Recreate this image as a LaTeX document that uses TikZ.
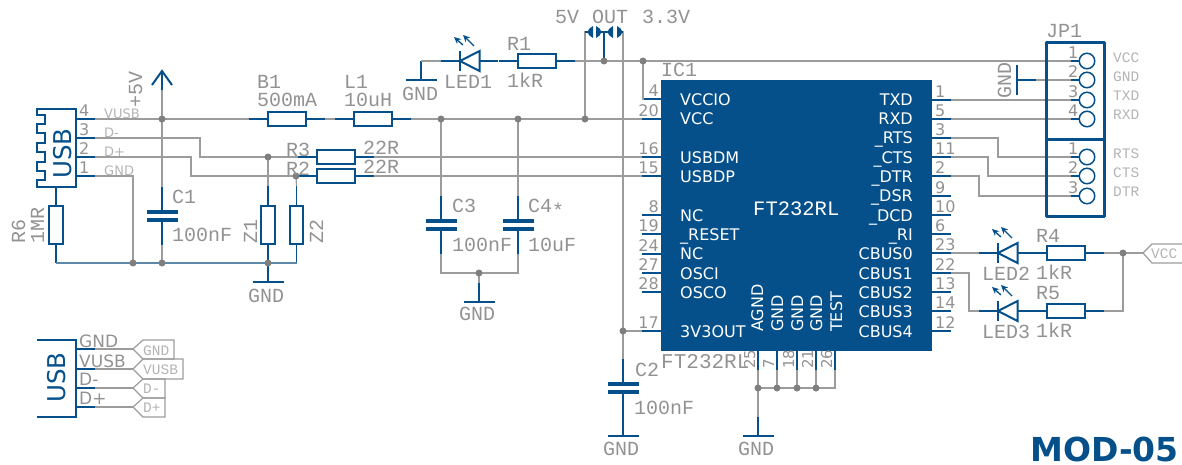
\documentclass[tikz,border=0pt]{standalone}
\usepackage{fontspec}
\setmainfont{DejaVu Sans}
\newfontfamily\lmono{Liberation Mono}
\usetikzlibrary{arrows.meta}
\definecolor{bl}{HTML}{05508A}
\definecolor{wg}{HTML}{9C9C9C}
\definecolor{tg}{HTML}{929292}
\definecolor{lg}{HTML}{B4B4B4}
\definecolor{jc}{HTML}{7F7F7F}
\definecolor{gw}{HTML}{5E88A8}
\tikzset{
  wire/.style={draw=wg,line width=1.2pt,line join=miter},
  gwire/.style={draw=gw,line width=1.3pt},
  lead/.style={draw=bl,line width=1.3pt},
  sym/.style={draw=bl,line width=2pt},
  resh/.style={draw=bl,line width=2pt,fill=white,rectangle,inner sep=0,minimum width=38pt,minimum height=13.5pt},
  resv/.style={draw=bl,line width=2pt,fill=white,rectangle,inner sep=0,minimum width=13.5pt,minimum height=38pt},
  junc/.style={circle,fill=jc,draw=none,inner sep=0,minimum size=7pt},
  lab/.style={anchor=base west,inner sep=0,text=tg,font=\lmono\fontsize{20}{20}\selectfont},
  labr/.style={lab,rotate=90},
  pinl/.style={anchor=base east,inner sep=0,text=tg,font=\fontsize{16}{16}\selectfont},
  pinr/.style={anchor=base west,inner sep=0,text=tg,font=\fontsize{16}{16}\selectfont},
  pinv/.style={anchor=base west,inner sep=0,rotate=90,text=tg,font=\fontsize{15}{15}\selectfont},
  net/.style={anchor=base west,inner sep=0,text=lg,font=\fontsize{13}{13}\selectfont},
  mnet/.style={anchor=base west,inner sep=0,text=lg,font=\lmono\fontsize{14.5}{14.5}\selectfont},
  usbl/.style={anchor=base west,inner sep=0,text=tg,font=\fontsize{17}{17}\selectfont},
  icl/.style={anchor=base west,inner sep=0,text=white,font=\fontsize{16}{16}\selectfont},
  icr/.style={anchor=base east,inner sep=0,text=white,font=\fontsize{16}{16}\selectfont},
  icv/.style={icl,rotate=90},
  usbt/.style={anchor=base west,inner sep=0,rotate=90,text=bl,font=\fontsize{24.5}{24.5}\selectfont},
  chip/.style={rectangle,fill=bl,inner sep=0,minimum width=271pt,minimum height=271pt},
  hole/.style={circle,draw=bl,line width=1.5pt,fill=white,inner sep=0,minimum size=15.5pt},
  tagl/.style={draw=wg,line width=1.2pt},
  lite/.style={-{Stealth[length=7pt,width=6.5pt]},draw=bl,line width=1.3pt}
}
\newcounter{tn}
\newcommand{\Tx}[4]{\stepcounter{tn}\node[#3] (t\arabic{tn}) at (#1,#2) {#4};}
\newcommand{\Rh}[3]{%
  \coordinate (#1a) at ({#2-38},#3); \coordinate (#1b) at ({#2+38},#3);
  \draw[lead] (#1a) -- (#1b);
  \node[resh] (#1) at (#2,#3) {};}
\newcommand{\Rv}[3]{%
  \coordinate (#1a) at (#2,{#3-38.5}); \coordinate (#1b) at (#2,{#3+38.5});
  \draw[lead] (#1a) -- (#1b);
  \node[resv] (#1) at (#2,#3) {};}
\newcommand{\Cp}[3]{%
  \coordinate (#1a) at (#2,{#3-29}); \coordinate (#1b) at (#2,{#3+29});
  \draw[lead] (#1a) -- ({#2},{#3-4}); \draw[lead] ({#2},{#3+4}) -- (#1b);
  \fill[bl] ({#2-15.5},{#3-6}) rectangle ({#2+15.5},{#3-2});
  \fill[bl] ({#2-15.5},{#3+2}) rectangle ({#2+15.5},{#3+6});}
\newcommand{\Gnd}[3]{% name, x, bar y
  \coordinate (#1) at (#2,{#3-19});
  \draw[lead] (#1) -- (#2,#3);
  \draw[bl,line width=1.6pt] ({#2-15.5},#3) -- ({#2+15.5},#3);}
\newcommand{\Led}[3]{% name, bar x, y
  \coordinate (#1a) at ({#2-19},#3); \coordinate (#1b) at ({#2+38},#3);
  \draw[lead] (#1a) -- (#1b);
  \draw[sym,line join=miter,fill=white] ({#2+19.5},{#3-10}) -- (#2,#3) -- ({#2+19.5},{#3+10}) -- cycle;
  \draw[sym] (#2,{#3-10}) -- (#2,{#3+10});
  \draw[lite] ({#2+3},{#3-16}) -- ({#2-6},{#3-24});
  \draw[lite] ({#2+14},{#3-15}) -- ({#2+3},{#3-26});}
\newcommand{\Lp}[3]{% num,y,name
  \coordinate (#3) at (642,#2);
  \draw[lead] (#3) -- (661,#2);
  \Tx{659}{#2-3}{pinl}{#1}}
\newcommand{\Rp}[3]{%
  \coordinate (#3) at (951,#2);
  \draw[lead] (932,#2) -- (#3);
  \Tx{935}{#2-3}{pinr}{#1}}
\newcommand{\Bp}[3]{% num,x,name
  \coordinate (#3) at (#2,370);
  \draw[lead] (#2,351) -- (#3);
  \Tx{#2-3}{369}{pinv}{#1}}
\newcommand{\Jh}[3]{% name,y,num
  \node[hole] (#1) at (1087,#2) {};
  \draw[lead] (1071,#2) -- (#1.west);
  \Tx{1068}{#2-3}{pinr}{#3}}
\begin{document}
\begin{tikzpicture}[x=1pt,y=-1pt]
\useasboundingbox (0,0) rectangle (1182,464);
% ---- junctions
\foreach \n/\x/\y in {j5/162/119,ja/441/119,jb/518/119,jc/585/119,jm/268/157,jp/296/176,
  jg1/133/263,jg2/162/263,jg3/268/263,jc3/479/273,jt/604/61,ju/643/61,jv/623/331,
  jk1/758/388,jk2/777/388,jk3/797/388,jk4/816/388,jl/1123/253}
  {\coordinate (\n) at (\x,\y);}
% ---- USB connector pins
\foreach \n/\y in {u4/119,u3/138,u2/157,u1/176}{\coordinate (\n) at (95,\y); \draw[lead] (76,\y) -- (\n);}
\Rh{B1}{287}{119}
\Rh{L1}{373}{119}
\Rh{R3}{335.5}{157}
\Rh{R2}{335.5}{176}
\Rv{R6}{56}{224.5}
\Rv{Z1}{268}{224.5}
\Rv{Z2}{296.5}{224.5}
\Cp{C1}{162}{215.5}
\Cp{C3}{441}{225}
\Cp{C4}{518}{225}
\Cp{C2}{623}{388}
\Gnd{g1}{268}{282}
\Gnd{g2}{479}{302}
\Gnd{g3}{623}{436}
\Gnd{g4}{758}{436}
\Gnd{g5}{421}{80}
\Led{D1}{460}{61}
\Rh{R1}{536.5}{61}
\Led{D2}{998}{253}
\Rh{R4}{1065.5}{253}
\Led{D3}{998}{311}
\Rh{R5}{1065.5}{311}
% ---- IC
\node[chip] (IC) at (796.5,215.5) {};
\Lp{4}{99}{p4}\Lp{20}{119}{p20}\Lp{16}{157}{p16}\Lp{15}{176}{p15}\Lp{8}{215}{p8}
\Lp{19}{234}{p19}\Lp{24}{254}{p24}\Lp{27}{273}{p27}\Lp{28}{292}{p28}\Lp{17}{331}{p17}
\Rp{1}{100}{q1}\Rp{5}{119}{q5}\Rp{3}{138}{q3}\Rp{11}{157}{q11}\Rp{2}{176}{q2}\Rp{9}{196}{q9}
\Rp{10}{215}{q10}\Rp{6}{234}{q6}\Rp{23}{253}{q23}\Rp{22}{273}{q22}\Rp{13}{292}{q13}\Rp{14}{311}{q14}\Rp{12}{331}{q12}
\Bp{25}{758}{b25}\Bp{7}{777}{b7}\Bp{18}{797}{b18}\Bp{21}{816}{b21}\Bp{26}{835}{b26}
% ---- wires
\draw[wire] (u4) -- (j5) -- (B1a);
\draw[wire] (B1b) -- (L1a);
\draw[wire] (L1b) -- (ja) -- (jb) -- (jc) -- (p20);
\draw[wire] (u3) -- (200,138) -- (200,157) -- (jm) -- (R3a);
\draw[wire] (u2) -- (191,157) -- (191,176) -- (jp) -- (R2a);
\draw[wire] (R3b) -- (p16);
\draw[wire] (R2b) -- (p15);
\draw[wire] (u1) -- (133,176) -- (jg1);
\draw[wire] (j5) -- (C1a);
\draw[wire] (C1b) -- (jg2);
\draw[wire] (jm) -- (Z1a);
\draw[wire] (jp) -- (Z2a);
\draw[gwire] (R6b) -- (jg1) -- (jg2) -- (jg3) -- (296.5,263) -- (Z2b);
\draw[wire] (ja) -- (C3a);
\draw[wire] (jb) -- (C4a);
\draw[wire] (C3b) -- (441,273) -- (jc3) -- (518,273) -- (C4b);
\draw[wire] (jc3) -- (g2);
\draw[wire] (g5) -- (D1a);
\draw[wire] (R1b) -- (jt) -- (ju) -- (1071,61);
\draw[wire] (ju) -- (643,99) -- (p4);
\draw[wire] (jc) -- (585,32) -- (589,32);
\draw[wire] (620,32) -- (623,32) -- (jv) -- (C2a);
\draw[wire] (p17) -- (jv);
\draw[lead] (jt) -- (604,32);
\draw[wire] (jk1) -- (g4);
\draw[wire] (b25) -- (jk1);
\draw[wire] (b7) -- (jk2);
\draw[wire] (b18) -- (jk3);
\draw[wire] (b21) -- (jk4);
\draw[wire] (jk1) -- (jk2) -- (jk3) -- (jk4) -- (835,388) -- (b26);
\draw[wire] (q23) -- (D2a);
\draw[wire] (q22) -- (969,273) -- (969,311) -- (D3a);
\draw[wire] (R4b) -- (jl) -- (1143,253);
\draw[wire] (R5b) -- (1123,311) -- (jl);
% +5V supply
\draw[wire] (j5) -- (162,90);
\draw[lead] (162,90) -- (162,71);
\draw[sym,line join=miter] (152,85) -- (162,71) -- (172,85);
% solder jumper
\foreach \x/\s in {593/1,596/-1,613/1,617/-1}{
  \fill[bl,shift={(\x,32)},xscale=\s] (0,-6) -- (0,6) .. controls (-3,5) and (-5,2) .. (-5.5,0) .. controls (-5,-2) and (-3,-5) .. (0,-6) -- cycle;}
\draw[lead] (601,32) -- (608,32);
\draw[lead] (585,32) -- (589,32);
\draw[lead] (620,32) -- (623,32);
% junction dots
\foreach \n in {j5,ja,jb,jc,jm,jp,jg1,jg2,jg3,jc3,jt,ju,jv,jk1,jk2,jk3,jk4,jl}
  {\node[junc] (d\n) at (\n) {};}
% ---- USB shell
\draw[sym,line join=miter] (76,109) -- (37,109) -- (37,115) -- (45,115) -- (45,124) -- (37,124) -- (37,133) -- (45,133) -- (45,143) -- (37,143) -- (37,152) -- (45,152) -- (45,162) -- (37,162) -- (37,171) -- (45,171) -- (45,180) -- (37,180) -- (37,187) -- (76,187) -- cycle;
\Tx{71}{179}{usbt}{USB}
\Tx{79}{116}{pinr}{4}\Tx{79}{135}{pinr}{3}\Tx{79}{154}{pinr}{2}\Tx{79}{173}{pinr}{1}
\Tx{104}{118}{net}{VUSB}\Tx{104}{137}{net}{D-}\Tx{104}{156}{net}{D+}\Tx{104}{175}{net}{GND}
% ---- JP1
\draw[wire] (q1) -- (1071,100);
\draw[wire] (q5) -- (1071,119);
\draw[wire] (q3) -- (998,138) -- (998,157) -- (1071,157);
\draw[wire] (q11) -- (988,157) -- (988,176) -- (1071,176);
\draw[wire] (q2) -- (979,176) -- (979,196) -- (1071,196);
\draw[lead] (1017,80) -- (1036,80);
\draw[wire] (1036,80) -- (1071,80);
\draw[bl,line width=1.6pt] (1017,65) -- (1017,95);
\draw[bl,line width=3pt,line join=round] (1046,42) rectangle (1104,139);
\draw[bl,line width=3pt,line join=round] (1046,139) rectangle (1104,216);
\Jh{h1}{61}{1}\Jh{h2}{80}{2}\Jh{h3}{100}{3}\Jh{h4}{119}{4}
\Jh{h5}{157}{1}\Jh{h6}{176}{2}\Jh{h7}{196}{3}
\Tx{1046}{37}{lab}{JP1}
\Tx{1113}{62}{mnet}{VCC}\Tx{1113}{81}{mnet}{GND}\Tx{1113}{100}{mnet}{TXD}\Tx{1113}{119}{mnet}{RXD}
\Tx{1113}{158}{mnet}{RTS}\Tx{1113}{177}{mnet}{CTS}\Tx{1113}{196}{mnet}{DTR}
\Tx{1011}{99}{labr}{GND}
% ---- VCC tag
\draw[tagl,line join=miter] (1182,244) -- (1152,244) -- (1143,253) -- (1152,263) -- (1182,263);
\Tx{1151}{258}{mnet}{VCC}
% ---- lower-left USB symbol
\draw[sym,line width=1.6pt,line join=miter] (37,340) -- (76,340) -- (76,417) -- (37,417);
\Tx{65}{403}{usbt}{USB}
\foreach \n/\y in {a1/349,a2/369,a3/388,a4/407}{\coordinate (\n) at (95,\y); \draw[lead] (76,\y) -- (\n);}
\draw[wire] (a1) -- (133,349);\draw[wire] (a2) -- (133,369);\draw[wire] (a3) -- (133,388);\draw[wire] (a4) -- (133,407);
\draw[tagl,line join=miter] (133,349) -- (143,340) -- (174,340) -- (174,359) -- (143,359) -- cycle;
\draw[tagl,line join=miter] (133,369) -- (143,359) -- (183,359) -- (183,379) -- (143,379) -- cycle;
\draw[tagl,line join=miter] (133,388) -- (143,379) -- (165,379) -- (165,398) -- (143,398) -- cycle;
\draw[tagl,line join=miter] (133,407) -- (143,398) -- (165,398) -- (165,417) -- (143,417) -- cycle;
\Tx{143}{355}{mnet}{GND}\Tx{143}{374}{mnet}{VUSB}\Tx{143}{393}{mnet}{D-}\Tx{143}{412}{mnet}{D+}
\Tx{79}{347}{usbl}{GND}\Tx{79}{367}{usbl}{VUSB}\Tx{79}{385}{usbl}{D-}\Tx{79}{404}{usbl}{D+}
% ---- value labels
\Tx{257}{88}{lab}{B1}\Tx{257}{106}{lab}{500mA}\Tx{344}{88}{lab}{L1}\Tx{344}{106}{lab}{10uH}
\Tx{286}{156}{lab}{R3}\Tx{286}{175}{lab}{R2}\Tx{363}{154}{lab}{22R}\Tx{363}{173}{lab}{22R}
\Tx{172}{203}{lab}{C1}\Tx{172}{241}{lab}{100nF}
\Tx{25}{244}{labr}{R6}\Tx{44}{244}{labr}{1MR}\Tx{142}{108}{labr}{+5V}
\Tx{257}{244}{labr}{Z1}\Tx{323}{244}{labr}{Z2}
\Tx{248}{302}{lab}{GND}\Tx{459}{320}{lab}{GND}\Tx{402}{100}{lab}{GND}
\Tx{603}{455}{lab}{GND}\Tx{738}{455}{lab}{GND}
\Tx{444}{88}{lab}{LED1}\Tx{507}{50}{lab}{R1}\Tx{507}{87}{lab}{1kR}
\Tx{452}{212}{lab}{C3}\Tx{452}{251}{lab}{100nF}\Tx{528}{212}{lab}{C4\raisebox{-5pt}{*}}\Tx{528}{251}{lab}{10uF}
\Tx{555}{23}{lab}{5V}\Tx{592}{23}{lab}{OUT}\Tx{642}{23}{lab}{3.3V}
\Tx{661}{76}{lab}{IC1}
\Tx{635}{376}{lab}{C2}\Tx{634}{414}{lab}{100nF}
\Tx{982}{280}{lab}{LED2}\Tx{1036}{279}{lab}{1kR}\Tx{1036}{242}{lab}{R4}
\Tx{982}{338}{lab}{LED3}\Tx{1036}{337}{lab}{1kR}\Tx{1036}{299}{lab}{R5}
\node[lab,font=\lmono\fontsize{21}{21}\selectfont] (gname) at (661,368) {FT232RL};
\node[lab,text=white,font=\lmono\fontsize{20.5}{20.5}\selectfont] (wname) at (753,215) {FT232RL};
% ---- IC text
\Tx{680}{105}{icl}{VCCIO}\Tx{680}{124}{icl}{VCC}\Tx{680}{163}{icl}{USBDM}\Tx{680}{182}{icl}{USBDP}
\Tx{680}{221}{icl}{NC}\Tx{680}{240}{icl}{\_RESET}\Tx{680}{259}{icl}{NC}\Tx{680}{279}{icl}{OSCI}
\Tx{680}{298}{icl}{OSCO}\Tx{680}{337}{icl}{3V3OUT}
\Tx{913}{105}{icr}{TXD}\Tx{913}{124}{icr}{RXD}\Tx{913}{143}{icr}{\_RTS}\Tx{913}{163}{icr}{\_CTS}
\Tx{913}{182}{icr}{\_DTR}\Tx{913}{201}{icr}{\_DSR}\Tx{913}{221}{icr}{\_DCD}\Tx{913}{240}{icr}{\_RI}
\Tx{913}{259}{icr}{CBUS0}\Tx{913}{279}{icr}{CBUS1}\Tx{913}{298}{icr}{CBUS2}\Tx{913}{317}{icr}{CBUS3}\Tx{913}{337}{icr}{CBUS4}
\Tx{763}{332}{icv}{AGND}\Tx{783}{332}{icv}{GND}\Tx{803}{332}{icv}{GND}\Tx{822}{332}{icv}{GND}\Tx{842}{332}{icv}{TEST}
% ---- title
\node[anchor=base west,inner sep=0,text=bl,font=\bfseries\fontsize{33}{33}\selectfont] (title) at (1030,461) {MOD-05};
\end{tikzpicture}
\end{document}
